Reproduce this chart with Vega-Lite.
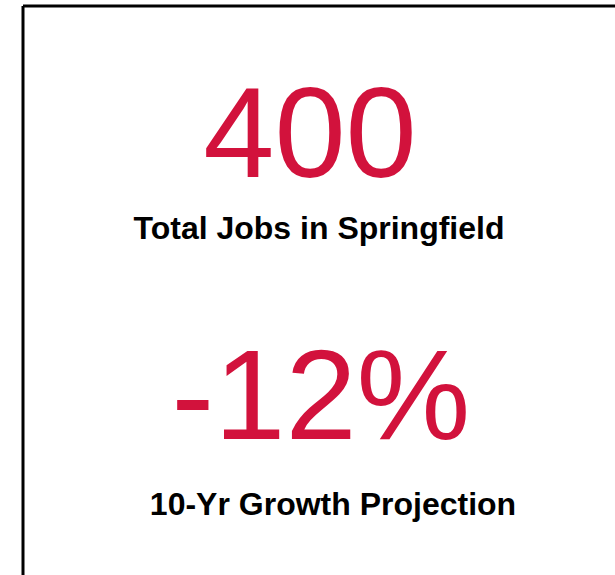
{
  "$schema": "https://vega.github.io/schema/vega-lite/v6.json",
  "width": 592,
  "height": 569,
  "autosize": "none",
  "padding": {"left": 23, "top": 6, "right": 0, "bottom": 0},
  "background": "white",
  "config": {"view": {"stroke": null}},
  "data": {
    "values": [
      {"item": "jobs", "value": "400", "label": "Total Jobs in Springfield"},
      {"item": "growth", "value": "-12%", "label": "10-Yr Growth Projection"}
    ]
  },
  "layer": [
    {
      "data": {"values": [{"edge": 0}]},
      "mark": {"type": "rule", "stroke": "black", "strokeWidth": 3},
      "encoding": {
        "x": {"field": "edge", "type": "quantitative", "scale": {"domain": [0, 1]}, "axis": null}
      }
    },
    {
      "data": {"values": [{"edge": 1}]},
      "mark": {"type": "rule", "stroke": "black", "strokeWidth": 3},
      "encoding": {
        "y": {"field": "edge", "type": "quantitative", "scale": {"domain": [0, 1]}, "axis": null}
      }
    },
    {
      "mark": {"type": "text", "font": "Liberation Sans", "fontSize": 128, "color": "#D2123C", "baseline": "alphabetic", "align": "center"},
      "encoding": {
        "x": {"field": "item", "type": "nominal", "sort": ["jobs", "growth"], "scale": {"type": "point", "padding": 0, "range": [287, 298]}, "axis": null},
        "y": {"field": "item", "type": "nominal", "sort": ["jobs", "growth"], "scale": {"type": "point", "padding": 0, "range": [171, 433]}, "axis": null},
        "text": {"field": "value"}
      }
    },
    {
      "mark": {"type": "text", "font": "Liberation Sans", "fontSize": 32, "fontWeight": "bold", "color": "black", "baseline": "alphabetic", "align": "center"},
      "encoding": {
        "x": {"field": "item", "type": "nominal", "sort": ["jobs", "growth"], "scale": {"type": "point", "padding": 0, "range": [296, 310]}, "axis": null},
        "y": {"field": "item", "type": "nominal", "sort": ["jobs", "growth"], "scale": {"type": "point", "padding": 0, "range": [233, 509]}, "axis": null},
        "text": {"field": "label"}
      }
    }
  ],
  "resolve": {"scale": {"x": "independent", "y": "independent"}}
}
